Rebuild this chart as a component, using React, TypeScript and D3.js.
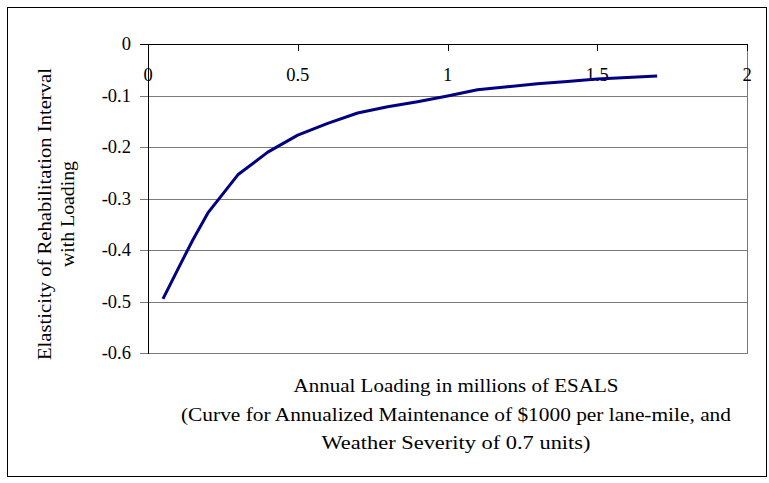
import React from "react";
import * as d3 from "d3";

const loading = [0.05, 0.1, 0.15, 0.2, 0.3, 0.4, 0.5, 0.6, 0.7, 0.8, 0.9, 1.0, 1.1, 1.2, 1.3, 1.4, 1.5, 1.6, 1.7];
const elasticity = [-0.495, -0.437, -0.38, -0.328, -0.254, -0.21, -0.177, -0.154, -0.134, -0.122, -0.112, -0.101, -0.089, -0.083, -0.077, -0.073, -0.068, -0.065, -0.062];
const xTicks = [0, 0.5, 1, 1.5, 2];
const xTickLabels = ["0", "0.5", "1", "1.5", "2"];
const yTicks = [0, -0.1, -0.2, -0.3, -0.4, -0.5, -0.6];
const yTickLabels = ["0", "-0.1", "-0.2", "-0.3", "-0.4", "-0.5", "-0.6"];
const yTitle = ["Elasticity of Rehabilitation Interval", "with Loading"];
const xTitle = [
  "Annual Loading in millions of ESALS",
  "(Curve for Annualized Maintenance of $1000 per lane-mile, and",
  "Weather Severity of 0.7 units)",
];

const FONT = "Liberation Serif";

export default function App() {
  const W = 769, H = 483;
  const x = d3.scaleLinear().domain([0, 2]).range([148, 747]);
  const y = d3.scaleLinear().domain([0, -0.6]).range([44, 353]);
  const line = d3
    .line<number>()
    .x((_, i) => x(loading[i]))
    .y((d) => y(d));
  const xTitleLens = [325, 550, 269];
  const yTitleLens = [292, 106];
  return (
    <svg width={W} height={H} style={{ position: "absolute", left: 0, top: 0 }}>
      <rect x={0} y={0} width={W} height={H} fill="#fff" />
      <rect x={7.5} y={7.5} width={759} height={469} fill="none" stroke="#000" strokeWidth={1} />
      {yTicks.map((t, i) => (
        <line
          key={"g" + i}
          x1={140}
          x2={747}
          y1={Math.round(y(t)) + 0.5}
          y2={Math.round(y(t)) + 0.5}
          stroke={i === 0 ? "#000" : "#7a7a7a"}
          strokeWidth={1}
        />
      ))}
      <line x1={747.5} x2={747.5} y1={44} y2={354} stroke="#7a7a7a" />
      <line x1={148.5} x2={148.5} y1={44} y2={354} stroke="#000" />
      {xTicks.map((t, i) => (
        <line key={"xt" + i} x1={Math.round(x(t)) + 0.5} x2={Math.round(x(t)) + 0.5} y1={44} y2={51} stroke="#000" />
      ))}
      {yTicks.map((t, i) => (
        <text key={"yl" + i} x={131} y={y(t) + 6} textAnchor="end" fontSize={18.5} fontFamily={FONT} style={{ fontFamily: FONT }}>
          {yTickLabels[i]}
        </text>
      ))}
      {xTicks.map((t, i) => (
        <text key={"xl" + i} x={x(t)} y={81} textAnchor="middle" fontSize={18.5} fontFamily={FONT} style={{ fontFamily: FONT }}>
          {xTickLabels[i]}
        </text>
      ))}
      <path d={line(elasticity) || ""} fill="none" stroke="#000080" strokeWidth={3} strokeLinejoin="round" />
      <g transform="translate(51,214) rotate(-90)">
        {yTitle.map((s, i) => (
          <text
            key={"yt" + i}
            x={-yTitleLens[i] / 2}
            y={i * 23}
            fontSize={18}
            fontFamily={FONT}
            style={{ fontFamily: FONT }}
            textLength={yTitleLens[i]}
            lengthAdjust="spacingAndGlyphs"
          >
            {s}
          </text>
        ))}
      </g>
      {xTitle.map((s, i) => (
        <text
          key={"xti" + i}
          x={456 - xTitleLens[i] / 2}
          y={392 + i * 28.5}
          fontSize={18}
          fontFamily={FONT}
          style={{ fontFamily: FONT }}
          textLength={xTitleLens[i]}
          lengthAdjust="spacingAndGlyphs"
        >
          {s}
        </text>
      ))}
    </svg>
  );
}
